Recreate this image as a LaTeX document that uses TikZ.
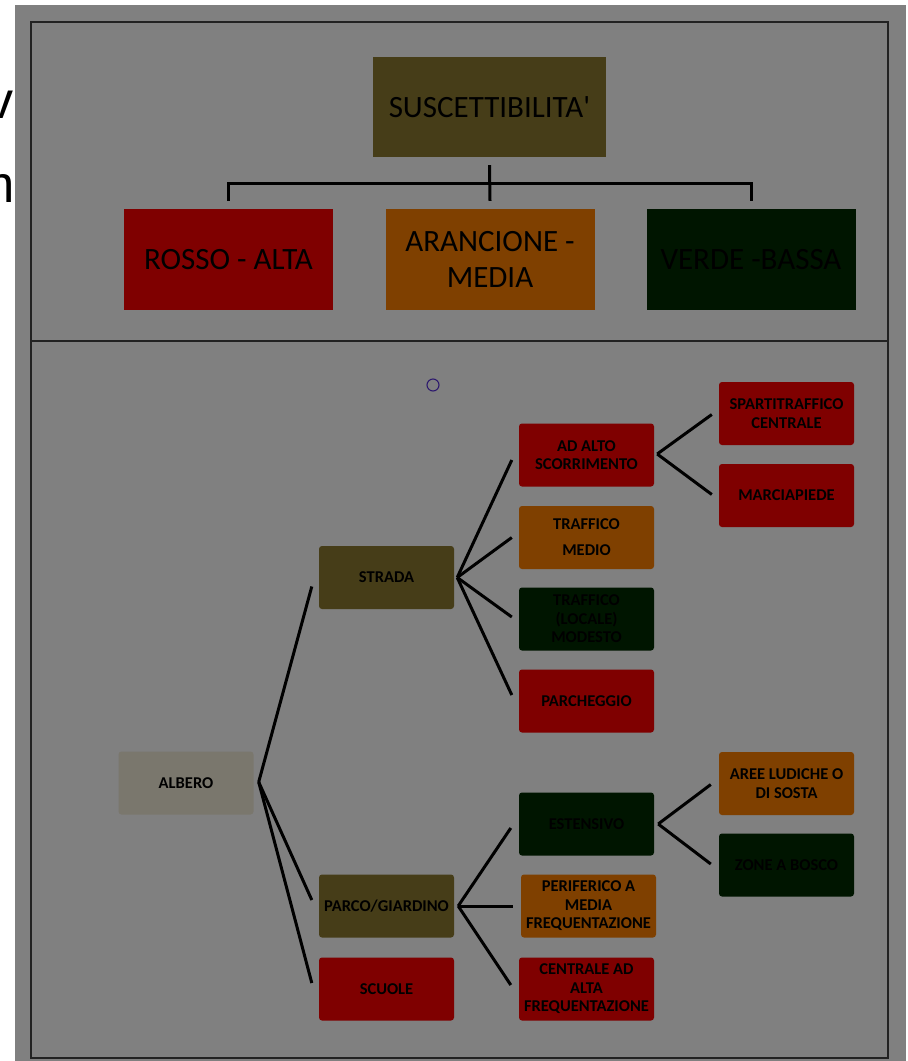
\documentclass[tikz,border=0pt]{standalone}
\usepackage{fontspec}
\setmainfont{Carlito}[Ligatures=TeXOff]
\newfontfamily\fragfont{Liberation Sans}
\usetikzlibrary{calc}
\definecolor{bggrey}{HTML}{808080}
\definecolor{redbox}{HTML}{7F0000}
\definecolor{orangebox}{HTML}{7F4000}
\definecolor{greenbox}{HTML}{001500}
\definecolor{olivebox}{HTML}{463D18}
\definecolor{albbox}{HTML}{7A776D}
\definecolor{framecol}{HTML}{222222}
\definecolor{circcol}{HTML}{2E1A6E}
\tikzset{
  topbox/.style={draw=none, minimum width=209pt, minimum height=101pt, inner sep=0pt,
    align=center, text=black, font=\fontsize{31}{36}\selectfont},
  leafbox/.style={draw=none, rounded corners=3pt, minimum width=135pt, minimum height=63pt,
    inner sep=0pt, align=center, text=black, font=\bfseries\fontsize{16.5}{18.5}\selectfont},
  conn/.style={draw=black, line width=3pt},
}
\begin{document}
\begin{tikzpicture}[x=1pt,y=-1pt]
\useasboundingbox (0,0) rectangle (908,1061);
\fill[white] (0,0) rectangle (908,1061);
% background text fragments
\node[anchor=east, inner sep=0pt, font=\fragfont\fontsize{52}{52}\selectfont] (fragv) at (14,105) {v};
\node[anchor=east, inner sep=0pt, font=\fragfont\fontsize{52}{52}\selectfont] (fragm) at (15,189) {m};
% grey area
\fill[bggrey] (15,5) rectangle (906,1061);
% frame
\draw[framecol, line width=1.6pt] (31,22) rectangle (888,1058);
\draw[framecol, line width=1.6pt] (31,341) -- (888,341);

% top part
\node[topbox, fill=olivebox, minimum width=233pt, minimum height=100pt] (susc) at (489.5,107) {SUSCETTIBILITA'};
\node[topbox, fill=redbox] (rosso) at (228.5,259.5) {ROSSO - ALTA};
\node[topbox, fill=orangebox] (arancione) at (490,259.5) {ARANCIONE -\\MEDIA};
\node[topbox, fill=greenbox] (verde) at (751,259.5) {VERDE -BASSA};
\draw[conn] ($(susc.south)+(0,8)$) -- ($(arancione.north)+(0,-8)$);
\draw[conn] ($(rosso.north)+(0,-8)$) |- ($(susc.south)+(0,26)$) -| ($(verde.north)+(0,-8)$);

% circle
\node[circle, draw=circcol, line width=1.1pt, minimum size=12pt, inner sep=0pt] (circ) at (433,385) {};

% tree
\node[leafbox, fill=albbox] (albero) at (186,783) {ALBERO};
\node[leafbox, fill=olivebox] (strada) at (386.5,577.5) {STRADA};
\node[leafbox, fill=olivebox] (parco) at (386.5,906) {PARCO/GIARDINO};
\node[leafbox, fill=redbox] (scuole) at (386.5,989) {SCUOLE};

\node[leafbox, fill=redbox] (adalto) at (586.5,455) {AD ALTO\\SCORRIMENTO};
\node[leafbox, fill=orangebox, font=\bfseries\fontsize{16.5}{26}\selectfont] (trmedio) at (586.5,537.5) {TRAFFICO\\MEDIO};
\node[leafbox, fill=greenbox] (trmod) at (586.5,619) {TRAFFICO\\(LOCALE)\\MODESTO};
\node[leafbox, fill=redbox] (parcheggio) at (586.5,701) {PARCHEGGIO};

\node[leafbox, fill=redbox] (spart) at (786.5,413.5) {SPARTITRAFFICO\\CENTRALE};
\node[leafbox, fill=redbox] (marcia) at (786.5,495.5) {MARCIAPIEDE};

\node[leafbox, fill=greenbox] (estensivo) at (586.5,824) {ESTENSIVO};
\node[leafbox, fill=orangebox] (periferico) at (588.5,906) {PERIFERICO A\\MEDIA\\FREQUENTAZIONE};
\node[leafbox, fill=redbox] (centrale) at (586.5,989) {CENTRALE AD\\ALTA\\FREQUENTAZIONE};

\node[leafbox, fill=orangebox] (aree) at (786.5,783.5) {AREE LUDICHE O\\DI SOSTA};
\node[leafbox, fill=greenbox] (zone) at (786.5,865) {ZONE A BOSCO};

% connectors
\coordinate (aA) at ($(albero.east)+(5,-1)$);
\draw[conn] (aA) -- ($(strada.west)+(-7,9)$);
\draw[conn] (aA) -- ($(parco.west)+(-7,-6)$);
\draw[conn] (aA) -- ($(scuole.west)+(-7,-6)$);

\coordinate (sA) at ($(strada.east)+(3,0)$);
\draw[conn] (sA) -- ($(adalto.west)+(-7,5)$);
\draw[conn] (sA) -- ($(trmedio.west)+(-7,0)$);
\draw[conn] (sA) -- ($(trmod.west)+(-7,-2)$);
\draw[conn] (sA) -- ($(parcheggio.west)+(-7,-6)$);

\coordinate (adA) at ($(adalto.east)+(3,-1)$);
\draw[conn] (adA) -- ($(spart.west)+(-7,1)$);
\draw[conn] (adA) -- ($(marcia.west)+(-7,-1)$);

\coordinate (pA) at ($(parco.east)+(4,0)$);
\draw[conn] (pA) -- ($(estensivo.west)+(-8,4)$);
\draw[conn] (pA) -- ($(periferico.west)+(-8,0)$);
\draw[conn] (pA) -- ($(centrale.west)+(-8,-4)$);

\coordinate (eA) at ($(estensivo.east)+(4,0)$);
\draw[conn] (eA) -- ($(aree.west)+(-8,1)$);
\draw[conn] (eA) -- ($(zone.west)+(-8,-1)$);
\end{tikzpicture}
\end{document}
